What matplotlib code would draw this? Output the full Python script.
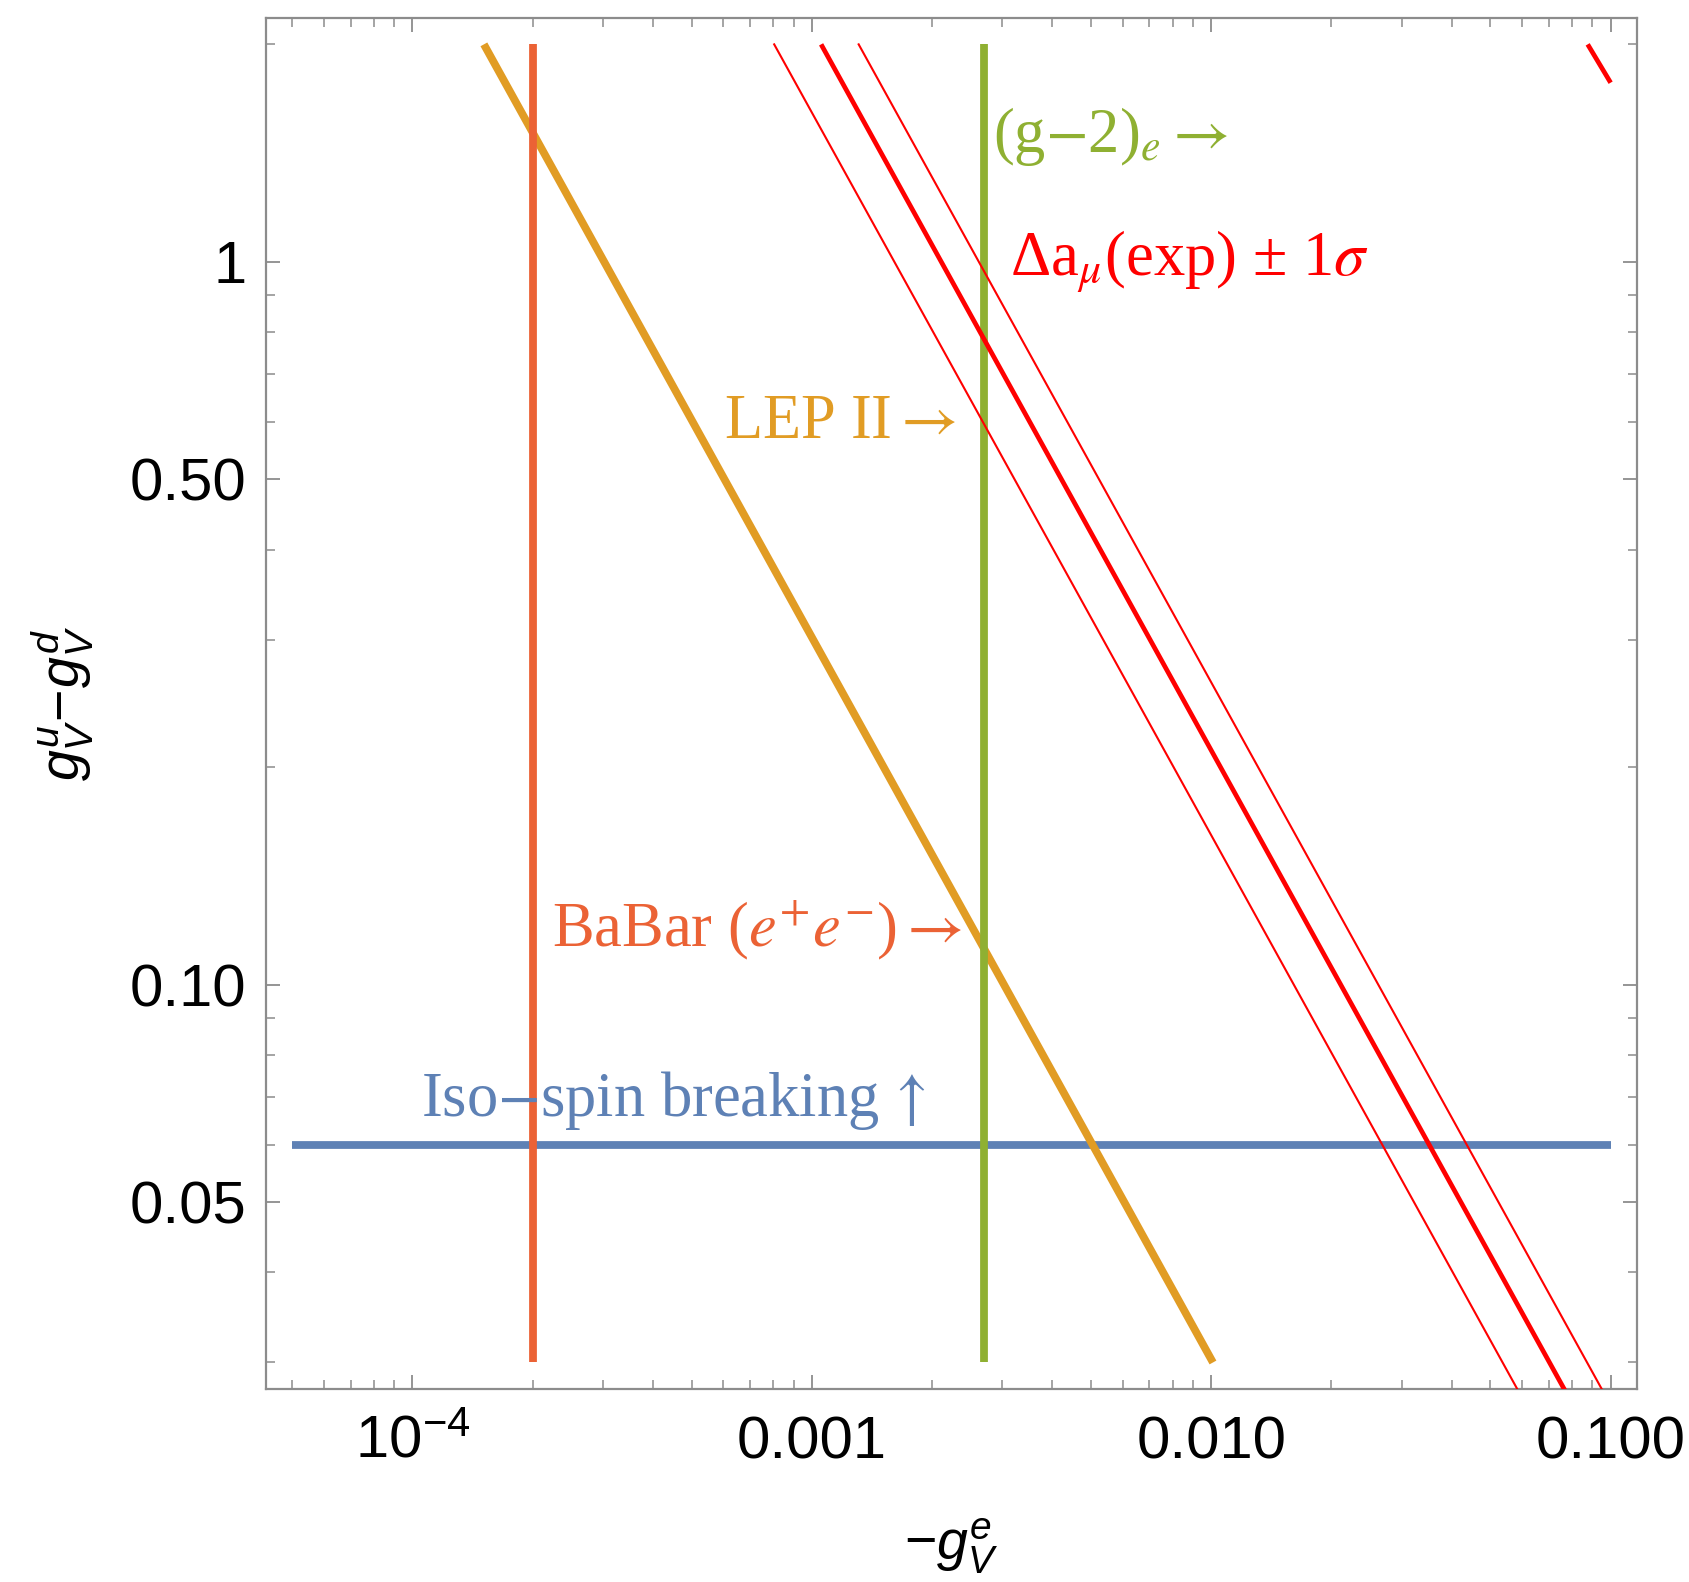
import matplotlib
matplotlib.use("Agg")
from matplotlib import pyplot as plt
from matplotlib.ticker import FixedLocator, FixedFormatter, LogLocator, NullFormatter

plt.rcParams["font.family"] = ["Liberation Sans", "DejaVu Sans"]
plt.rcParams["mathtext.fontset"] = "custom"
plt.rcParams["mathtext.rm"] = "Liberation Sans"
plt.rcParams["mathtext.it"] = "Liberation Sans:italic"
plt.rcParams["mathtext.bf"] = "Liberation Sans:bold"

# Colores (paleta por defecto de Mathematica)
azul = "#5E81B5"
naranja = "#E19C24"
verde = "#8FB032"
rojizo = "#EB6235"
rojo = "#FF0000"

# Datos: -g_V^e (x) y g_V^u - g_V^d (y)
iso_x = [5e-5, 0.1]
iso_y = [0.06, 0.06]

lep_x = [1.51e-4, 0.0101]
lep_y = [2.0, 0.03]

babar_x = [2.0e-4, 2.0e-4]
babar_y = [0.03, 2.0]

ge_x = [2.7e-3, 2.7e-3]
ge_y = [0.03, 2.0]

amu_x = [1.055e-3, 0.0781]
amu_y = [2.0, 0.027]
amu_lo_x = [8.05e-4, 0.0596]
amu_lo_y = [2.0, 0.027]
amu_hi_x = [1.31e-3, 0.0970]
amu_hi_y = [2.0, 0.027]
amu_rama_x = [0.0876, 0.1]
amu_rama_y = [2.0, 1.77]

# Ejes
x_lim = [4.30e-5, 0.1164]
y_lim = [0.02757, 2.175]
x_mayores = [1e-4, 1e-3, 1e-2, 1e-1]
x_etiquetas = [r"$\mathregular{10^{-4}}$", "0.001", "0.010", "0.100"]
y_mayores = [0.05, 0.1, 0.5, 1]
y_etiquetas = ["0.05", "0.10", "0.50", "1"]
y_menores = [0.03, 0.04, 0.06, 0.07, 0.08, 0.09, 0.2, 0.3, 0.4, 0.6, 0.7, 0.8, 0.9, 2]

fig = plt.figure(figsize=(16.89, 15.82), dpi=100)
ax = fig.add_axes([0.1575, 0.1220, 0.8117, 0.8666])
ax.set_xscale("log")
ax.set_yscale("log")

ax.plot(iso_x, iso_y, color=azul, lw=5.6, solid_capstyle="butt", zorder=2)
ax.plot(lep_x, lep_y, color=naranja, lw=5.6, solid_capstyle="butt", zorder=3)
ax.plot(ge_x, ge_y, color=verde, lw=5.6, solid_capstyle="butt", zorder=4)
ax.plot(babar_x, babar_y, color=rojizo, lw=5.6, solid_capstyle="butt", zorder=5)
ax.plot(amu_x, amu_y, color=rojo, lw=3.4, solid_capstyle="butt", zorder=6)
ax.plot(amu_lo_x, amu_lo_y, color=rojo, lw=1.5, zorder=6)
ax.plot(amu_hi_x, amu_hi_y, color=rojo, lw=1.5, zorder=6)
ax.plot(amu_rama_x, amu_rama_y, color=rojo, lw=3.4, solid_capstyle="butt", zorder=6)

ax.set_xlim(x_lim)
ax.set_ylim(y_lim)

ax.xaxis.set_major_locator(FixedLocator(x_mayores))
ax.xaxis.set_major_formatter(FixedFormatter(x_etiquetas))
ax.xaxis.set_minor_locator(LogLocator(base=10, subs=range(2, 10)))
ax.xaxis.set_minor_formatter(NullFormatter())
ax.yaxis.set_major_locator(FixedLocator(y_mayores))
ax.yaxis.set_major_formatter(FixedFormatter(y_etiquetas))
ax.yaxis.set_minor_locator(FixedLocator(y_menores))
ax.yaxis.set_minor_formatter(NullFormatter())

gris = "#8C8C8C"
for s in ax.spines.values():
    s.set_color(gris)
    s.set_linewidth(1.6)
ax.tick_params(which="both", direction="in", top=True, right=True, color=gris,
               labelcolor="black", labelsize=43)
ax.tick_params(which="major", length=10, width=1.3)
ax.tick_params(which="minor", length=6.5, width=1.1)
ax.tick_params(axis="x", which="major", pad=19)
ax.tick_params(axis="y", which="major", pad=14)

ax.set_xlabel(r"$-g_V^{e}$", fontsize=40, labelpad=33)
ax.set_ylabel(r"$g_V^{u}\!-\!g_V^{d}$", fontsize=40, labelpad=24)

# Etiquetas de las curvas
serif = ["Liberation Serif", "DejaVu Serif"]
estilo = dict(fontsize=45, family=serif, math_fontfamily="stix", va="baseline", zorder=7)
ax.text(2.84e-3, 1.42, r"(g$-$2)$_e\rightarrow$", color=verde, **estilo)
ax.text(3.13e-3, 0.956, "\u0394a$_\\mu$(exp) \u00b1 1$\\sigma$", color=rojo, **estilo)
ax.text(6.01e-4, 0.570, r"LEP II$\rightarrow$", color=naranja, **estilo)
ax.text(2.24e-4, 0.113, r"BaBar ($e^{+}e^{-}$)$\rightarrow$", color=rojizo, **estilo)
ax.text(1.05e-4, 0.0658, r"Iso$-$spin breaking$\,\uparrow$", color=azul, **estilo)

fig.savefig("out.png", dpi=100)
plt.close(fig)
